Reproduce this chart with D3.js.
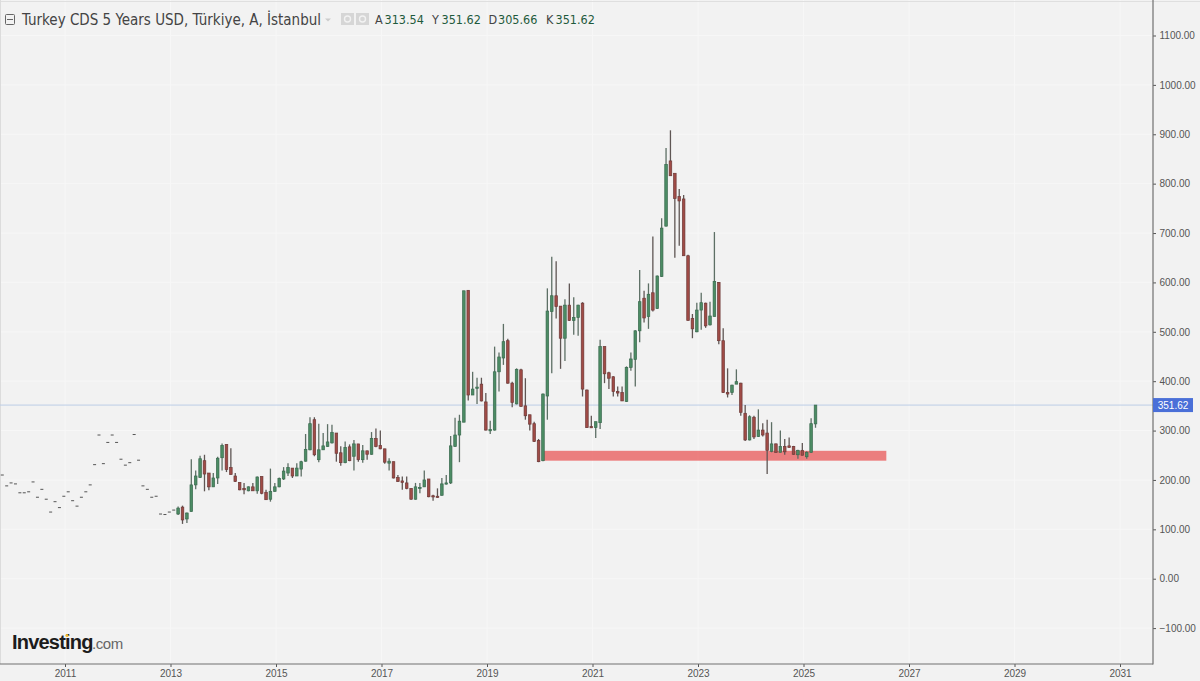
<!DOCTYPE html>
<html><head><meta charset="utf-8">
<style>html,body{margin:0;padding:0;background:#f2f2f2;overflow:hidden}svg{display:block}text{font-family:"Liberation Sans",Arial,sans-serif}</style>
<script src="https://cdnjs.cloudflare.com/ajax/libs/d3/7.8.5/d3.min.js"></script>
</head><body><svg id="c" width="1200" height="681"></svg>
<script>
const flatValues=[210,188,194,192,174,174,176,196,165,181,161,135,156,144,167,176,158,147,165,176,190,231,291,233,276,291,276,242,230,235,292,240,188,181,165,167,131,130,135,139];
const opens=[131,145,121,136,190,205,239,214,186,204,
245,272,225,208,195,183,178,186,178,207,
175,161,177,186,202,214,224,208,222,238,
261,322,241,261,268,275,295,255,235,267,
248,273,241,259,252,284,270,263,234,237,
205,198,194,183,161,183,186,202,168,167,
169,192,194,268,291,317,584,372,386,394,
358,300,301,419,447,482,396,354,423,350,
332,314,280,239,370,541,573,552,487,554,
523,529,558,382,308,306,316,470,417,409,
379,377,359,428,444,502,568,531,579,547,
612,714,846,821,774,769,654,527,500,544,
558,514,531,600,482,377,377,394,396,335,
281,327,288,301,295,258,273,256,268,269,
268,251,260,247,256,313.54];
const highs=[146,148,134,242,219,249,251,214,214,247,
274,272,264,214,195,194,187,194,207,207,
180,223,194,205,226,234,224,234,239,293,
327,327,314,295,313,312,295,268,278,272,
281,273,271,259,297,304,300,263,244,237,
210,207,207,183,194,194,219,202,170,183,
204,210,289,326,332,583,584,419,407,407,
376,320,470,458,516,486,399,426,425,406,
332,318,283,375,588,652,643,552,566,598,
570,555,560,383,330,318,484,470,419,410,
389,389,430,458,503,625,583,598,693,614,
730,872,908,821,789,777,656,536,559,579,
559,561,702,601,507,426,393,424,397,352,
331,330,343,315,322,317,274,300,283,286,
269,261,275,258,325,351.62];
const lows=[129,111,113,136,181,204,177,179,186,192,
219,216,211,196,179,171,177,178,172,171,
160,156,176,185,200,208,204,208,207,237,
260,248,236,261,267,274,237,229,234,238,
219,237,235,241,251,266,262,233,219,203,
196,180,181,160,160,173,186,165,158,164,
168,191,192,267,236,317,361,372,354,359,
300,293,300,379,433,395,347,353,348,322,
300,277,236,238,322,416,527,425,441,522,
494,492,369,305,305,285,303,396,384,369,
369,360,358,421,389,479,519,506,541,546,
611,713,816,650,674,654,523,487,499,504,
508,513,531,475,376,367,372,394,330,279,
280,283,287,288,212,256,255,256,251,265,
251,243,250,243,255,305.66];
const closes=[143,119,133,190,208,243,212,186,204,244,
270,221,211,197,180,180,186,178,206,173,
160,177,186,203,218,225,208,224,237,262,
314,251,261,269,277,296,254,235,266,239,
273,241,259,252,284,268,263,236,238,204,
197,195,183,161,186,185,200,166,166,166,
192,194,269,291,319,583,372,384,388,360,
301,302,419,449,480,396,357,424,349,330,
313,278,237,374,542,573,551,487,554,523,
529,554,384,306,306,318,470,415,406,379,
376,360,428,445,502,561,528,576,544,613,
710,839,816,770,765,654,523,506,544,559,
512,532,602,482,377,374,392,399,337,281,
328,287,301,291,260,273,256,268,257,266,
252,260,250,256,314,351.62];
const yearTicks=[2011,2013,2015,2017,2019,2021,2023,2025,2027,2029,2031];
const priceTicks=[-100,0,100,200,300,400,500,600,700,800,900,1000,1100];
const firstYear=2009.811;
const lastPrice=351.62;
const zoneLow=239, zoneHigh=259, zoneStart=2020.06, zoneEnd=2026.57;
const titleText="Turkey CDS 5 Years USD, Türkiye, A, İstanbul";
const ohlc=[["A","313.54",375],["Y","351.62",432],["D","305.66",488.5],["K","351.62",546]];

const candles=[
 ...flatValues.map((v,i)=>({i,o:v,h:v,l:v,c:v,flat:true})),
 ...opens.map((o,k)=>({i:k+flatValues.length,o,h:highs[k],l:lows[k],c:closes[k],flat:false}))
];
const x=d3.scaleLinear().domain([2011,2031]).range([65,1120]);
const y=d3.scaleLinear().domain([-100,1100]).range([628.1,35.5]);
const cx=d=>x(firstYear+d.i/12);
const svg=d3.select("#c");
const W=1200,H=681,axisX=1153,axisY=664;

svg.append("rect").attr("width",W).attr("height",H).attr("fill","#f2f2f2");
svg.append("g").selectAll("line").data(priceTicks).join("line")
 .attr("x1",0).attr("x2",axisX).attr("y1",d=>y(d)).attr("y2",d=>y(d)).attr("stroke","#f7f7f7");
svg.append("g").selectAll("line").data(yearTicks).join("line")
 .attr("x1",d=>x(d)).attr("x2",d=>x(d)).attr("y1",0).attr("y2",axisY).attr("stroke","#f7f7f7");
svg.append("line").attr("x1",0).attr("x2",W).attr("y1",1.5).attr("y2",1.5).attr("stroke","#dfdfdf");
svg.append("line").attr("x1",.5).attr("x2",.5).attr("y1",0).attr("y2",axisY).attr("stroke","#dcdcdc");

// last price line
svg.append("line").attr("x1",0).attr("x2",axisX).attr("y1",y(lastPrice)).attr("y2",y(lastPrice)).attr("stroke","#bccde6").attr("stroke-width",1);

// support zone (beneath the candles)
svg.append("rect").attr("x",x(zoneStart)).attr("width",x(zoneEnd)-x(zoneStart))
 .attr("y",y(zoneHigh)).attr("height",y(zoneLow)-y(zoneHigh)).attr("fill","#ea6a6a").attr("fill-opacity",.85);

// candles
const g=svg.append("g");
g.selectAll("line.w").data(candles.filter(d=>!d.flat)).join("line").attr("class","w")
 .attr("x1",cx).attr("x2",cx).attr("y1",d=>y(d.h)).attr("y2",d=>y(d.l))
 .attr("stroke",d=>d.c>=d.o?"#5d6f65":"#5f5654").attr("stroke-width",1.3);
g.selectAll("rect.b").data(candles).join("rect").attr("class","b")
 .attr("x",d=>cx(d)-(d.flat?1.5:1.3)).attr("width",d=>d.flat?3:2.6)
 .attr("y",d=>d.flat?y(d.c)-.5:y(Math.max(d.o,d.c)))
 .attr("height",d=>d.flat?1:Math.max(1.2,Math.abs(y(d.o)-y(d.c))))
 .attr("fill",d=>d.flat?"#555":d.c>=d.o?"#4c8c64":"#a04b46")
 .attr("stroke",d=>d.flat?"none":d.c>=d.o?"#3a6a4f":"#6e3b39").attr("stroke-width",.7);

// axes
const ax=svg.append("g").attr("transform",`translate(0,${axisY})`)
 .call(d3.axisBottom(x).tickValues(yearTicks).tickFormat(d3.format("d")).tickSize(3).tickPadding(3));
const ay=svg.append("g").attr("transform",`translate(${axisX},0)`)
 .call(d3.axisRight(y).tickValues(priceTicks).tickFormat(d3.format(".2f")).tickSize(3).tickPadding(3.5));
[ax,ay].forEach(a=>{a.selectAll("text").attr("fill","#555").style("font-size","10px").style("font-family",'"Liberation Sans",Arial,sans-serif');a.selectAll("line").attr("stroke","#555");a.select(".domain").remove();});
svg.append("line").attr("x1",0).attr("x2",axisX).attr("y1",axisY).attr("y2",axisY).attr("stroke","#707070").attr("stroke-width",1.2);
svg.append("line").attr("x1",axisX).attr("x2",axisX).attr("y1",0).attr("y2",axisY+.6).attr("stroke","#707070").attr("stroke-width",1.2);

// last price badge
svg.append("rect").attr("x",axisX).attr("y",y(lastPrice)-7).attr("width",40).attr("height",14).attr("fill","#4a6fd8");
svg.append("text").attr("x",axisX+20).attr("y",y(lastPrice)+3.5).attr("text-anchor","middle").attr("fill","#fff").style("font-size","10px").text(lastPrice.toFixed(2));

// header
const cond='"DejaVu Sans Condensed","DejaVu Sans",sans-serif';
svg.append("rect").attr("x",5.5).attr("y",14.5).attr("width",9).attr("height",10).attr("rx",1).attr("fill","none").attr("stroke","#666");
svg.append("line").attr("x1",7).attr("x2",13).attr("y1",19.5).attr("y2",19.5).attr("stroke","#666");
svg.append("text").attr("x",22).attr("y",24.5).attr("fill","#444").style("font-family",cond).style("font-stretch","condensed").style("font-size","15px").text(titleText);
svg.append("path").attr("d","M325,18.5h6l-3,3z").attr("fill","#ccc");
[341,356].forEach(px=>{svg.append("rect").attr("x",px).attr("y",13).attr("width",13).attr("height",12).attr("fill","#d6d6d6");
 svg.append("circle").attr("cx",px+6.5).attr("cy",19).attr("r",3).attr("fill","none").attr("stroke","#f2f2f2").attr("stroke-width",1.4);});
ohlc.forEach(([k,v,px])=>{
 svg.append("text").attr("x",px).attr("y",24).attr("fill","#444").style("font-family",cond).style("font-stretch","condensed").style("font-size","12.5px").text(k);
 svg.append("text").attr("x",px+9.5).attr("y",24).attr("fill","#1f5a3c").style("font-family",cond).style("font-stretch","condensed").style("font-size","12.5px").text(v);
});

// logo
svg.append("text").attr("x",12).attr("y",649).attr("fill","#1c1c1c").style("font-weight","bold").style("font-size","20px").style("letter-spacing","-0.8px").text("Investing");
svg.append("text").attr("x",92).attr("y",649).attr("fill","#666").style("font-size","15px").style("letter-spacing","-0.4px").text(".com");
svg.append("circle").attr("cx",67).attr("cy",635.5).attr("r",1.6).attr("fill","#f2b92c");
</script></body></html>
